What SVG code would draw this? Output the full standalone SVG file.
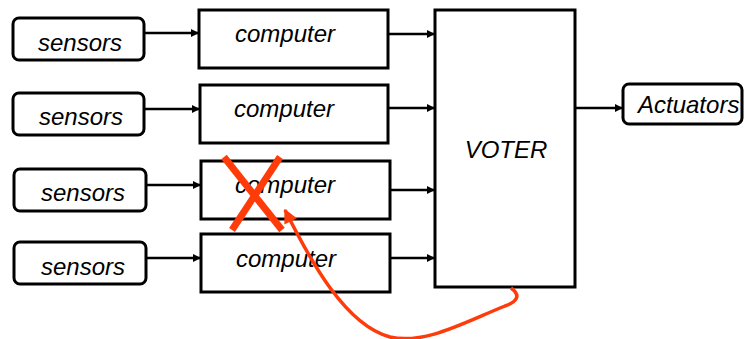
<svg xmlns="http://www.w3.org/2000/svg" width="744" height="339" viewBox="0 0 744 339">
<style>
.box{fill:#fff;stroke:#000;stroke-width:3}
.lbl{font-family:"Liberation Sans",Arial,sans-serif;font-style:italic;font-size:24px;fill:#000}
.conn{stroke:#000;stroke-width:2.5;fill:none}
.red{stroke:#ff3b0a;fill:none}
</style>
<defs>
<marker id="ah" viewBox="0 0 10 10" refX="10" refY="5" markerWidth="9" markerHeight="8" markerUnits="userSpaceOnUse" orient="auto">
<path d="M0,0 L10,5 L0,10 z" fill="#000"/>
</marker>
<marker id="rh" viewBox="0 0 10 10" refX="9" refY="5" markerWidth="16" markerHeight="14" markerUnits="userSpaceOnUse" orient="auto">
<path d="M0,0 L10,5 L0,10 z" fill="#ff3b0a"/>
</marker>
</defs>
<g id="connectors">
<line class="conn" x1="144" y1="33" x2="199" y2="33" marker-end="url(#ah)"/>
<line class="conn" x1="144" y1="109" x2="200" y2="109" marker-end="url(#ah)"/>
<line class="conn" x1="146" y1="185" x2="201" y2="185" marker-end="url(#ah)"/>
<line class="conn" x1="146" y1="258" x2="201" y2="258" marker-end="url(#ah)"/>
<line class="conn" x1="388" y1="34" x2="435" y2="34" marker-end="url(#ah)"/>
<line class="conn" x1="388" y1="108" x2="435" y2="108" marker-end="url(#ah)"/>
<line class="conn" x1="390" y1="190" x2="435" y2="190" marker-end="url(#ah)"/>
<line class="conn" x1="390" y1="258" x2="435" y2="258" marker-end="url(#ah)"/>
<line class="conn" x1="575" y1="108" x2="623" y2="108" marker-end="url(#ah)"/>
</g>
<g id="sensors1"><rect class="box" x="13" y="18" width="131" height="42" rx="6"/><text class="lbl" x="38" y="51">sensors</text></g>
<g id="sensors2"><rect class="box" x="13" y="93" width="131" height="42" rx="6"/><text class="lbl" x="39" y="125">sensors</text></g>
<g id="sensors3"><rect class="box" x="14" y="169" width="132" height="42" rx="6"/><text class="lbl" x="41" y="201">sensors</text></g>
<g id="sensors4"><rect class="box" x="14" y="242" width="132" height="42" rx="6"/><text class="lbl" x="41" y="275">sensors</text></g>
<g id="computer1"><rect class="box" x="199" y="10" width="189" height="58"/><text class="lbl" x="235" y="42">computer</text></g>
<g id="computer2"><rect class="box" x="200" y="85" width="188" height="58"/><text class="lbl" x="234" y="117">computer</text></g>
<g id="computer3"><rect class="box" x="201" y="161" width="189" height="58"/><text class="lbl" x="235" y="193">computer</text></g>
<g id="computer4"><rect class="box" x="201" y="234" width="189" height="58"/><text class="lbl" x="236" y="267">computer</text></g>
<g id="voter"><rect class="box" x="435" y="10" width="140" height="277"/><text class="lbl" x="506" y="158" text-anchor="middle">VOTER</text></g>
<g id="actuators"><rect class="box" x="623" y="84" width="119" height="40" rx="6"/><text class="lbl" x="638" y="113">Actuators</text></g>
<g id="failure">
<line class="red" stroke-width="7" x1="224" y1="157" x2="282" y2="230"/>
<line class="red" stroke-width="7" x1="280" y1="157" x2="232" y2="230"/>
<path class="red" stroke-width="3.5" d="M511,288 C522,296 516,302 505,306 C465,322 425,345 390,337 C345,325 310,260 285,210" marker-end="url(#rh)"/>
</g>
</svg>
